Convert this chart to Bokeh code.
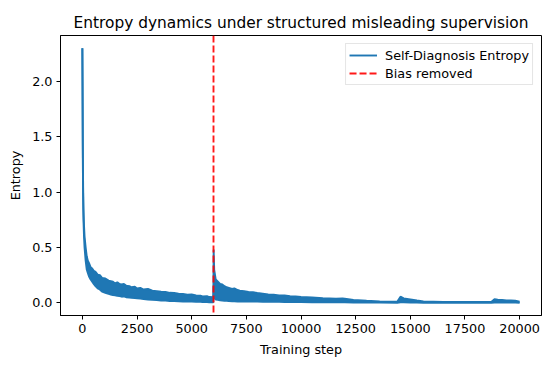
from bokeh.plotting import figure
from bokeh.models import Range1d, FixedTicker, PrintfTickFormatter, Legend, LegendItem, ColumnDataSource
from bokeh.embed import file_html
from bokeh.resources import INLINE

# ---- data (lower / upper edge of the noisy curve) ----
steps = [0, 10, 20, 35, 50, 75, 100, 150, 200, 250, 300, 380, 450, 520, 600, 700, 800, 900,
         1050, 1200, 1300, 1400, 1500, 1600, 1700, 1800, 1900, 2000, 2150, 2250, 2400, 2500,
         2650, 2800, 3000, 3200, 3400, 3600, 3800, 4000, 4200, 4400, 4600, 4800, 5000,
         5200, 5400, 5500, 5700, 5800, 5990, 6005, 6030, 6100, 6200, 6300, 6400, 6500, 6600,
         6700, 6850, 6950, 7100, 7200, 7400, 7600, 7800, 8000, 8250, 8500, 8750, 9000, 9250,
         9500, 9750, 10000, 10500, 11000, 11300, 11600, 11900, 12000, 12400, 13000, 13600,
         14400, 14550, 14700, 15000, 15300, 15600, 16500, 17500, 18700, 18850, 19000, 19200,
         19400, 19600, 19800, 19999]
entropy_low = [2.30, 1.80, 1.30, 0.95, 0.75, 0.60, 0.50, 0.38, 0.30, 0.27, 0.24, 0.21, 0.19, 0.17, 0.15, 0.13, 0.12, 0.10,
               0.09, 0.08, 0.075, 0.07, 0.068, 0.062, 0.06, 0.055, 0.058, 0.05, 0.048, 0.045, 0.042, 0.04,
               0.038, 0.034, 0.03, 0.026, 0.024, 0.02, 0.02, 0.016, 0.015, 0.013, 0.012, 0.011, 0.01,
               0.009, 0.008, 0.006, 0.006, 0.005, 0.005, 0.15, 0.05, 0.03, 0.026, 0.022, 0.02, 0.018, 0.017,
               0.015, 0.014, 0.013, 0.012, 0.012, 0.011, 0.011, 0.01, 0.01, 0.009, 0.009, 0.008, 0.008, 0.007,
               0.007, 0.006, 0.006, 0.005, 0.005, 0.004, 0.004, 0.004, 0.004, 0.003, 0.002, 0.001,
               0.0, 0.005, 0.005, 0.003, 0.002, 0.0, 0.0, 0.0, 0.0, 0.003, 0.003, 0.002,
               0.002, 0.002, 0.001, 0.0]
entropy_high = [2.30, 1.95, 1.45, 1.05, 0.85, 0.70, 0.60, 0.50, 0.42, 0.38, 0.36, 0.32, 0.31, 0.29, 0.28, 0.255, 0.25, 0.225,
                0.22, 0.20, 0.195, 0.19, 0.175, 0.185, 0.17, 0.165, 0.17, 0.155, 0.15, 0.14, 0.145, 0.13,
                0.135, 0.12, 0.125, 0.11, 0.105, 0.10, 0.098, 0.09, 0.088, 0.082, 0.08, 0.072, 0.075,
                0.066, 0.064, 0.058, 0.06, 0.052, 0.05, 0.48, 0.30, 0.21, 0.19, 0.17, 0.165, 0.15, 0.14,
                0.135, 0.125, 0.13, 0.115, 0.11, 0.105, 0.098, 0.095, 0.088, 0.082, 0.076, 0.072, 0.066, 0.066,
                0.06, 0.058, 0.052, 0.047, 0.042, 0.04, 0.036, 0.038, 0.036, 0.025, 0.018, 0.012,
                0.01, 0.055, 0.04, 0.03, 0.02, 0.012, 0.008, 0.008, 0.008, 0.032, 0.028, 0.025,
                0.022, 0.02, 0.018, 0.01]
bias_step = 6000
x_ticks = [0, 2500, 5000, 7500, 10000, 12500, 15000, 17500, 20000]
y_ticks = [0.0, 0.5, 1.0, 1.5, 2.0]

BLUE = "#1f77b4"
FONT = "DejaVu Sans"
FS = "12.8px"

src = ColumnDataSource(dict(x=steps, lo=entropy_low, hi=entropy_high))

p = figure(width=555, height=370, output_backend="svg", toolbar_location=None,
           x_range=Range1d(-1000, 21000), y_range=Range1d(-0.115, 2.415),
           min_border_left=60, min_border_right=14, min_border_top=35, min_border_bottom=55,
           title="Entropy dynamics under structured misleading supervision")
p.title.text_font = FONT
p.title.text_font_size = "15.4px"
p.title.text_font_style = "normal"
p.title.align = "center"
p.title.text_color = "black"
p.title.standoff = 8

p.xgrid.visible = False
p.ygrid.visible = False
p.outline_line_color = "black"
p.outline_line_width = 1
p.background_fill_color = "white"

p.varea(x="x", y1="lo", y2="hi", source=src, fill_color=BLUE)
r_hi = p.line(x="x", y="hi", source=src, line_color=BLUE, line_width=1.9)
p.line(x="x", y="lo", source=src, line_color=BLUE, line_width=1.9)

r_bias = p.vspan(x=[bias_step], line_color="red", line_dash="7 3", line_width=1.9, line_alpha=0.9)

for ax in (p.xaxis[0], p.yaxis[0]):
    ax.axis_line_color = "black"
    ax.major_tick_line_color = "black"
    ax.major_tick_out = 4
    ax.major_tick_in = 0
    ax.minor_tick_line_color = None
    ax.major_label_text_font = FONT
    ax.major_label_text_font_size = FS
    ax.major_label_text_color = "black"
    ax.axis_label_text_font = FONT
    ax.axis_label_text_font_size = FS
    ax.axis_label_text_font_style = "normal"
    ax.axis_label_text_color = "black"
    ax.major_label_standoff = 4
    ax.axis_label_standoff = 6

p.xaxis.ticker = FixedTicker(ticks=x_ticks)
p.yaxis.ticker = FixedTicker(ticks=y_ticks)
p.yaxis.formatter = PrintfTickFormatter(format="%.1f")
p.xaxis.axis_label = "Training step"
p.yaxis.axis_label = "Entropy"

legend = Legend(items=[LegendItem(label="Self-Diagnosis Entropy", renderers=[r_hi]),
                       LegendItem(label="Bias removed", renderers=[r_bias])],
                location="top_right")
legend.label_text_font = FONT
legend.label_text_font_size = FS
legend.label_text_color = "black"
legend.glyph_width = 28
legend.glyph_height = 16
legend.label_height = 16
legend.label_standoff = 8
legend.spacing = 2
legend.padding = 3
legend.margin = 8
legend.border_line_color = "#cccccc"
legend.border_line_width = 1
legend.background_fill_alpha = 0.8
p.add_layout(legend)

open("out.html", "w").write(file_html(p, INLINE))
